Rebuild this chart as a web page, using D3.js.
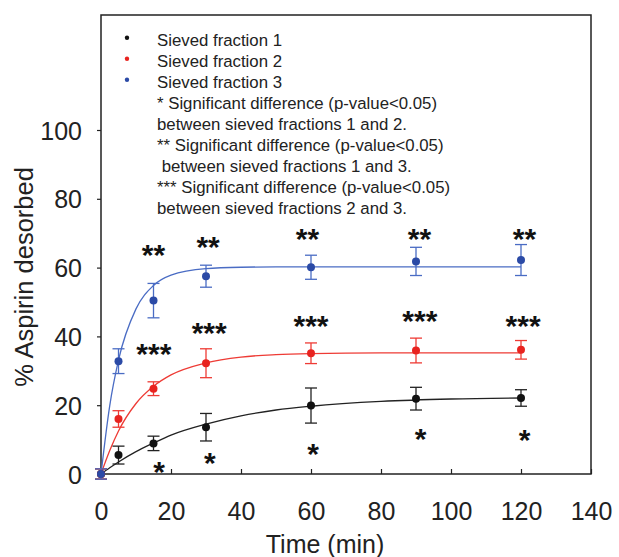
<!DOCTYPE html>
<html><head><meta charset="utf-8">
<script src="https://cdn.jsdelivr.net/npm/d3@7"></script>
<style>body{margin:0;background:#fff;} svg{display:block;font-family:"Liberation Sans",Arial,sans-serif;}</style>
</head><body>
<svg id="c" width="619" height="557"></svg>
<script>
// ---- data ----
const times = [0, 5, 15, 30, 60, 90, 120];
const frac1 = [0, 5.5, 8.9, 13.6, 19.9, 21.9, 22.1];
const frac1Err = [1.5, 2.6, 2.1, 4.0, 5.1, 3.3, 2.4];
const frac2 = [0, 16.0, 24.8, 32.2, 35.1, 35.9, 36.1];
const frac2Err = [1.5, 2.4, 2.0, 4.2, 3.0, 3.6, 2.7];
const frac3 = [0, 32.8, 50.4, 57.5, 60.1, 61.8, 62.2];
const frac3Err = [1.5, 3.6, 5.0, 3.2, 3.5, 4.1, 4.5];

// fitted curves
const fitTimes = [0, 2.5, 5, 10, 15, 20, 30, 40, 50, 60, 80, 100, 120];
const fit1 = [0, 1.8, 3.5, 6.5, 9.0, 11.3, 14.5, 16.9, 18.6, 19.7, 21.1, 21.8, 22.1];
const fit2 = [0, 6.8, 12.5, 20.5, 25.5, 28.8, 32.3, 34.0, 34.7, 35.0, 35.2, 35.2, 35.2];
const fit3 = [0, 19.9, 33.1, 48.0, 54.8, 57.8, 59.7, 60.1, 60.2, 60.2, 60.2, 60.2, 60.2];

// significance markers: label, x (min), y (%)
const sigLabels = ["**","**","**","**","**","***","***","***","***","***","*","*","*","*","*"];
const sigX = [15, 30.6, 59, 91, 121, 15.1, 30.9, 60, 91.1, 120.6, 16.6, 31.1, 60.6, 91.3, 121];
const sigY = [65.7, 68, 70.3, 70.3, 70.3, 37, 43, 45, 46.5, 45, 2.6, 5.2, 7.8, 12.2, 11.9];

const legendLabels = ["Sieved fraction 1", "Sieved fraction 2", "Sieved fraction 3"];
const noteLines = ["* Significant difference (p-value<0.05)", "between sieved fractions 1 and 2.",
  "** Significant difference (p-value<0.05)", " between sieved fractions 1 and 3.",
  "*** Significant difference (p-value<0.05)", "between sieved fractions 2 and 3."];

const xTicks = [0, 20, 40, 60, 80, 100, 120, 140];
const yTicks = [0, 20, 40, 60, 80, 100];

const colors = ["#111111", "#e8231f", "#2b4aa6"];
const lineColors = ["#222222", "#ee3b35", "#4a6cc4"];

// ---- chart ----
const svg = d3.select("#c");
const L = 101, R = 591, T = 15, B = 474;
const x = d3.scaleLinear().domain([0, 140]).range([L, R]);
const y = d3.scaleLinear().domain([0, (B - T) / 3.44]).range([B, T]);

// frame
svg.append("rect").attr("x", L).attr("y", T).attr("width", R - L).attr("height", B - T)
  .attr("fill", "none").attr("stroke", "#222").attr("stroke-width", 1.5);

// axes
const xAxis = svg.append("g").attr("transform", `translate(0,${B})`)
  .call(d3.axisBottom(x).tickValues(xTicks).tickSize(-5).tickPadding(28).tickFormat(d3.format("d")));
const yAxis = svg.append("g").attr("transform", `translate(${L},0)`)
  .call(d3.axisLeft(y).tickValues(yTicks).tickSize(4).tickPadding(15).tickFormat(d3.format("d")));
[xAxis, yAxis].forEach(g => {
  g.select(".domain").remove();
  g.selectAll("line").attr("stroke", "#222").attr("stroke-width", 1.2);
  g.selectAll("text").attr("font-family", "Liberation Sans, Arial, sans-serif")
    .attr("font-size", 25).attr("fill", "#222");
});
xAxis.selectAll("text").attr("dy", "0.71em");
yAxis.selectAll("text").attr("dy", "0.36em");

svg.append("text").attr("x", 325).attr("y", 553).attr("text-anchor", "middle")
  .attr("font-size", 25).attr("fill", "#222").text("Time (min)");
svg.append("text").attr("transform", `translate(33,277) rotate(-90)`)
  .attr("text-anchor", "middle").attr("font-size", 25.5).attr("fill", "#222").text("% Aspirin desorbed");

// fits
const line = d3.line().x(d => x(d[0])).y(d => y(d[1])).curve(d3.curveMonotoneX);
[fit1, fit2, fit3].forEach((f, i) => {
  svg.append("path").datum(fitTimes.map((t, j) => [t, f[j]]))
    .attr("d", line).attr("fill", "none").attr("stroke", lineColors[i]).attr("stroke-width", 1.3);
});

// error bars + points
const series = [[frac1, frac1Err], [frac2, frac2Err], [frac3, frac3Err]];
series.forEach(([v, e], i) => {
  const g = svg.append("g");
  const data = times.map((t, j) => ({t, v: v[j], e: e[j]}));
  const eb = g.selectAll(".eb").data(data).join("g").attr("stroke", lineColors[i]).attr("stroke-width", 1.3);
  eb.append("line").attr("x1", d => x(d.t)).attr("x2", d => x(d.t)).attr("y1", d => y(d.v - d.e)).attr("y2", d => y(d.v + d.e));
  eb.append("line").attr("x1", d => x(d.t) - 6).attr("x2", d => x(d.t) + 6).attr("y1", d => y(d.v + d.e)).attr("y2", d => y(d.v + d.e));
  eb.append("line").attr("x1", d => x(d.t) - 6).attr("x2", d => x(d.t) + 6).attr("y1", d => y(d.v - d.e)).attr("y2", d => y(d.v - d.e));
  g.selectAll("circle").data(data).join("circle")
    .attr("cx", d => x(d.t)).attr("cy", d => y(d.v)).attr("r", 4).attr("fill", colors[i]);
});

// significance stars
const fs = 30;
svg.selectAll(".sig").data(sigLabels).join("text")
  .attr("x", (d, i) => x(sigX[i])).attr("y", (d, i) => y(sigY[i]) + fs * 0.57)
  .attr("text-anchor", "middle").attr("font-size", fs).attr("font-weight", "bold").attr("fill", "#111")
  .text(d => d);

// legend
legendLabels.forEach((lab, i) => {
  const yy = 45.7 + i * 21;
  svg.append("circle").attr("cx", 127).attr("cy", yy - 8).attr("r", 2.2).attr("fill", colors[i]);
  svg.append("text").attr("x", 157).attr("y", yy).attr("font-size", 16.8).attr("fill", "#222").text(lab);
});
noteLines.forEach((lab, i) => {
  svg.append("text").attr("x", 157).attr("y", 108.5 + i * 21.1).attr("font-size", 16.8)
    .attr("fill", "#222").attr("xml:space", "preserve").style("white-space", "pre").text(lab);
});
</script>
</body></html>
